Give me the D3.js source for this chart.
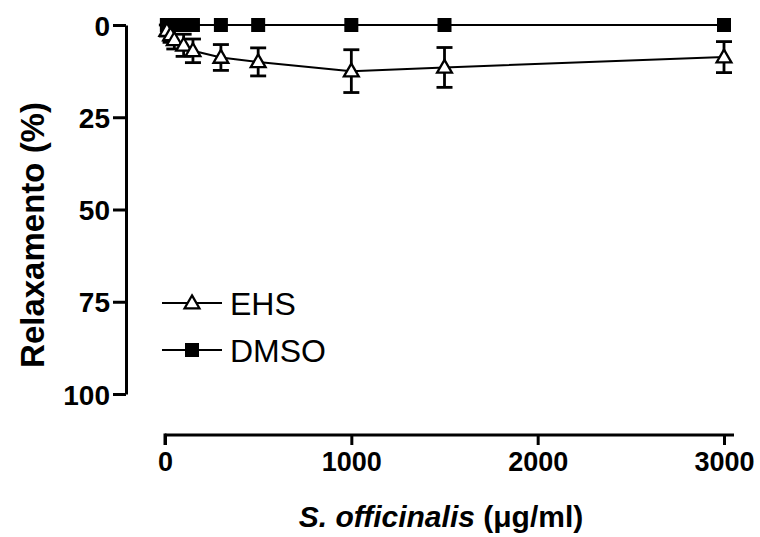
<!DOCTYPE html>
<html>
<head>
<meta charset="utf-8">
<script src="https://cdn.jsdelivr.net/npm/d3@7"></script>
<style>
  body{margin:0;background:#fff;}
  svg{display:block;}
</style>
</head>
<body>
<svg id="chart" width="760" height="537"></svg>
<script>
// doses (ug/ml)
var doses = [10, 30, 50, 100, 150, 300, 500, 1000, 1500, 3000];
// EHS relaxation (%) and SEM
var ehsMean = [1.5, 2.7, 4, 5.5, 7, 8.8, 10, 12.5, 11.5, 8.7];
var ehsErr  = [1.5, 2, 2.5, 3, 3.2, 3.5, 3.8, 5.8, 5.4, 4.2];
// DMSO relaxation (%)
var dmsoMean = [0, 0, 0, 0, 0, 0, 0, 0, 0, 0];

var xTicks = [0, 1000, 2000, 3000];
var yTicks = [0, 25, 50, 75, 100];
var seriesNames = ["EHS", "DMSO"];

var svg = d3.select("#chart");
var font = "'Liberation Sans', Arial, sans-serif";

var x = d3.scaleLinear().domain([0, 3000]).range([165, 724]);
var y = d3.scaleLinear().domain([0, 100]).range([25, 394]);

//y axis
var yAxis = svg.append("g").attr("transform", "translate(126,0)")
    .call(d3.axisLeft(y).tickValues(yTicks).tickSize(13).tickSizeOuter(0).tickPadding(3));
yAxis.select(".domain").attr("stroke", "#000").attr("stroke-width", 3);
yAxis.selectAll(".tick line").attr("stroke", "#000").attr("stroke-width", 3);
yAxis.selectAll(".tick text")
    .style("font-family", font).style("font-weight", "bold").style("font-size", "28px")
    .attr("fill", "#000").attr("dy", "0.36em");

//x axis
var xAxis = svg.append("g").attr("transform", "translate(0,435)")
    .call(d3.axisBottom(x).tickValues(xTicks).tickSize(10).tickSizeOuter(0).tickPadding(7).tickFormat(d3.format("d")));
xAxis.select(".domain").attr("d", "M" + x(0) + ",0H" + (x(3000) + 10)).attr("stroke", "#000").attr("stroke-width", 3);
xAxis.selectAll(".tick line").attr("stroke", "#000").attr("stroke-width", 3);
xAxis.selectAll(".tick text")
    .style("font-family", font).style("font-weight", "bold").style("font-size", "27px")
    .attr("fill", "#000").attr("dy", "0.71em");
// left corner of x axis
xAxis.append("line").attr("x1", x(0)).attr("x2", x(0)).attr("y1", -1.5).attr("y2", 10)
    .attr("stroke", "#000").attr("stroke-width", 3);

//axis titles
svg.append("text")
    .attr("transform", "translate(44,235) rotate(-90)")
    .attr("text-anchor", "middle")
    .style("font-family", font).style("font-weight", "bold").style("font-size", "33px")
    .text("Relaxamento (%)");

var xt = svg.append("text").attr("x", 441).attr("y", 527).attr("text-anchor", "middle")
    .style("font-family", font).style("font-weight", "bold").style("font-size", "30px");
xt.append("tspan").style("font-style", "italic").text("S. officinalis");
xt.append("tspan").text(" (\u03bcg/ml)");

var ehs = doses.map(function(d, i){ return {x: d, y: ehsMean[i], e: ehsErr[i]}; });
var dmso = doses.map(function(d, i){ return {x: d, y: dmsoMean[i]}; });

var line = d3.line().x(function(d){ return x(d.x); }).y(function(d){ return y(d.y); });

var plot = svg.append("g");

// DMSO line
plot.append("path").datum(dmso).attr("d", line)
    .attr("fill", "none").attr("stroke", "#000").attr("stroke-width", 2);

// EHS line
plot.append("path").datum(ehs).attr("d", line)
    .attr("fill", "none").attr("stroke", "#000").attr("stroke-width", 2);

// EHS error bars
var eb = plot.selectAll("g.err").data(ehs).enter().append("g").classed("err", true);
eb.append("line")
    .attr("x1", function(d){ return x(d.x); }).attr("x2", function(d){ return x(d.x); })
    .attr("y1", function(d){ return y(d.y - d.e); }).attr("y2", function(d){ return y(d.y + d.e); })
    .attr("stroke", "#000").attr("stroke-width", 2.8);
[-1, 1].forEach(function(s){
  eb.append("line")
    .attr("x1", function(d){ return x(d.x) - 8; }).attr("x2", function(d){ return x(d.x) + 8; })
    .attr("y1", function(d){ return y(d.y + s * d.e); }).attr("y2", function(d){ return y(d.y + s * d.e); })
    .attr("stroke", "#000").attr("stroke-width", 2.8);
});

var tri = d3.symbol().type(d3.symbolTriangle).size(95);

// DMSO squares
plot.selectAll("rect.dmso").data(dmso).enter().append("rect").classed("dmso", true)
    .attr("x", function(d){ return x(d.x) - 7; }).attr("y", function(d){ return y(d.y) - 7; })
    .attr("width", 14).attr("height", 14).attr("fill", "#000");

// EHS triangles
plot.selectAll("path.ehs").data(ehs).enter().append("path").classed("ehs", true)
    .attr("d", tri)
    .attr("transform", function(d){ return "translate(" + x(d.x) + "," + (y(d.y) + 1) + ")"; })
    .attr("fill", "#fff").attr("stroke", "#000").attr("stroke-width", 2.3);

//legend
var leg = svg.append("g");
var legY = [303, 350];
seriesNames.forEach(function(name, i){
  var g = leg.append("g").attr("transform", "translate(0," + legY[i] + ")");
  g.append("line").attr("x1", 162).attr("x2", 222).attr("y1", 0).attr("y2", 0)
    .attr("stroke", "#000").attr("stroke-width", 2);
  if(i == 0){
    g.append("path").attr("d", tri).attr("transform", "translate(192,1)")
      .attr("fill", "#fff").attr("stroke", "#000").attr("stroke-width", 2.3);
  } else {
    g.append("rect").attr("x", 185).attr("y", -7).attr("width", 14).attr("height", 14).attr("fill", "#000");
  }
  g.append("text").attr("x", 230).attr("y", 0).attr("dy", "0.36em")
    .style("font-family", font).style("font-size", "32px").text(name);
});
</script>
</body>
</html>
